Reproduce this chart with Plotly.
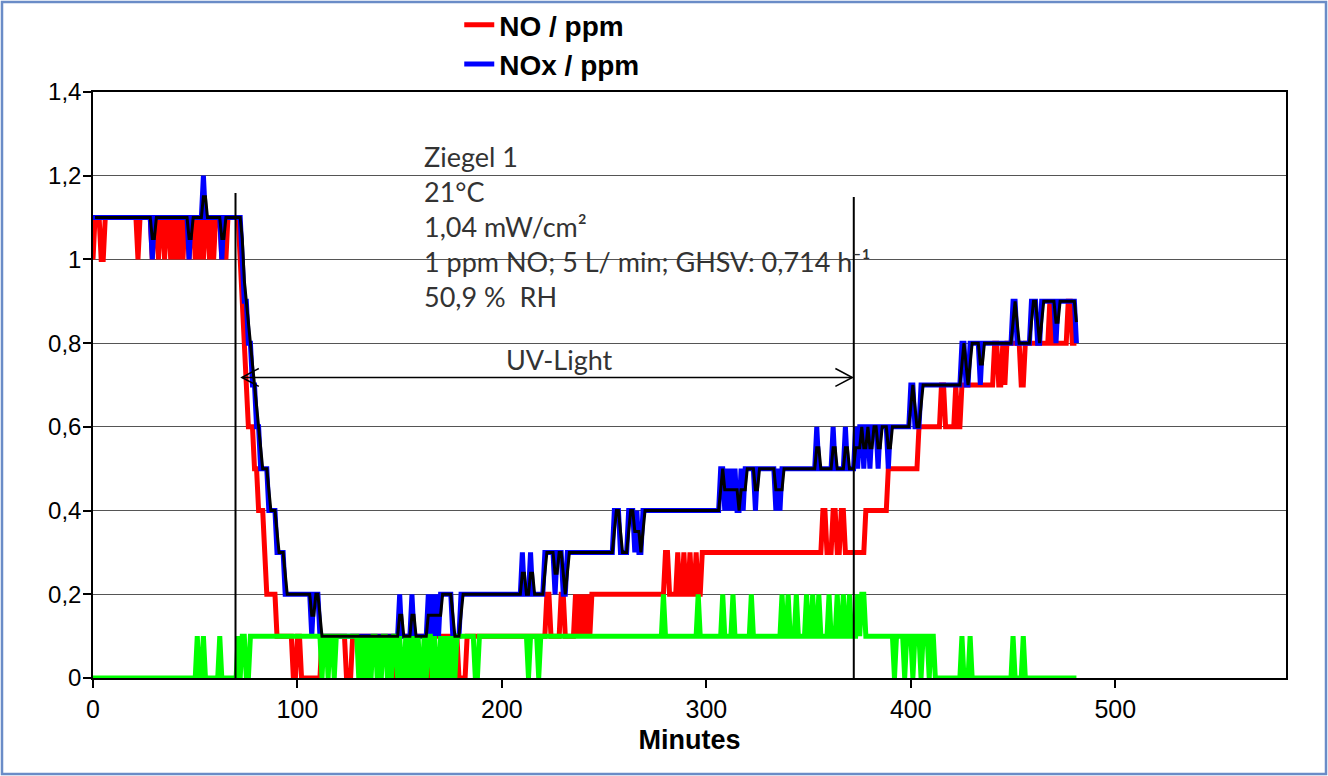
import plotly.graph_objects as go
import pandas as pd

# ---- data (minute at which a level starts, level in ppm); sampled once per minute, 0..481 ----
N_MIN = 482

NOX_START = [0, 29, 30, 47, 48, 54, 55, 63, 64,
             73, 74, 76, 78, 80, 82, 86, 90, 94,
             107, 108, 111,
             150, 151, 156, 157, 164, 165, 166, 167, 168, 169, 170, 176, 180,
             210, 211, 214, 215, 221, 226, 227, 230, 232,
             255, 258, 262, 265, 266, 267, 269,
             307, 309, 310, 311, 312, 313, 314, 315, 317, 318, 319,
             324, 325, 334, 335, 336, 337,
             354, 355, 362, 363, 368, 369, 373, 374, 375, 377, 378, 380, 381, 384, 385, 389, 390,
             400, 402, 405,
             425, 427, 429, 434, 435,
             450, 452, 459, 462, 464, 471, 472, 481]
NOX_LEVEL = [1.1, 1.0, 1.1, 1.0, 1.1, 1.2, 1.1, 1.0, 1.1,
             1.0, 0.9, 0.8, 0.7, 0.6, 0.5, 0.4, 0.3, 0.2,
             0.1, 0.2, 0.1,
             0.2, 0.1, 0.2, 0.1, 0.2, 0.1, 0.2, 0.1, 0.2, 0.1, 0.2, 0.1, 0.2,
             0.3, 0.2, 0.3, 0.2, 0.3, 0.2, 0.3, 0.2, 0.3,
             0.4, 0.3, 0.4, 0.3, 0.4, 0.3, 0.4,
             0.5, 0.4, 0.5, 0.4, 0.5, 0.4, 0.5, 0.4, 0.5, 0.4, 0.5,
             0.4, 0.5, 0.4, 0.5, 0.4, 0.5,
             0.6, 0.5, 0.6, 0.5, 0.6, 0.5, 0.6, 0.5, 0.6, 0.5, 0.6, 0.5, 0.6, 0.5, 0.6, 0.5, 0.6,
             0.7, 0.6, 0.7,
             0.8, 0.7, 0.8, 0.7, 0.8,
             0.9, 0.8, 0.9, 0.8, 0.9, 0.8, 0.9, 0.8]

NO_START = [0, 1, 4, 6, 22, 23, 29, 30, 32, 33, 35, 36, 38, 39, 40, 41, 42, 43, 44, 45, 47, 48,
            50, 51, 52, 53, 54, 55, 57, 58, 59, 60, 63, 64, 65, 66,
            72, 73, 74, 75, 76, 79, 81, 84, 85, 90, 98, 100, 102, 112, 124, 127, 148, 149,
            164, 165, 179, 183,
            222, 224, 229, 231, 236, 237, 238, 239, 240, 241, 242, 243, 244,
            280, 282, 286, 287, 289, 290, 292, 293, 295, 296, 298,
            357, 359, 362, 364, 366, 368, 378, 389, 404, 415, 417, 422, 423, 425,
            441, 443, 445, 446, 447, 454, 456, 468, 469, 477, 479]
NO_LEVEL = [1.0, 1.1, 1.0, 1.1, 1.0, 1.1, 1.0, 1.1, 1.0, 1.1, 1.0, 1.1, 1.0, 1.1, 1.0, 1.1, 1.0, 1.1, 1.0, 1.1, 1.0, 1.1,
            1.0, 1.1, 1.0, 1.1, 1.0, 1.1, 1.0, 1.1, 1.0, 1.1, 1.0, 1.1, 1.0, 1.1,
            1.0, 0.9, 0.8, 0.7, 0.6, 0.5, 0.4, 0.3, 0.2, 0.1, 0.0, 0.1, 0.0, 0.1, 0.0, 0.1, 0.0, 0.1,
            0.0, 0.1, 0.0, 0.1,
            0.2, 0.1, 0.2, 0.1, 0.2, 0.1, 0.2, 0.1, 0.2, 0.1, 0.2, 0.1, 0.2,
            0.3, 0.2, 0.3, 0.2, 0.3, 0.2, 0.3, 0.2, 0.3, 0.2, 0.3,
            0.4, 0.3, 0.4, 0.3, 0.4, 0.3, 0.4, 0.5, 0.6, 0.7, 0.6, 0.7, 0.6, 0.7,
            0.8, 0.7, 0.8, 0.7, 0.8, 0.7, 0.8, 0.9, 0.8, 0.9, 0.8]

NO2_START = [0, 51, 52, 54, 55, 62, 63, 71, 72, 73, 75, 77,
             112, 113, 115, 116, 118, 119, 130, 131, 132, 133, 134, 135, 136, 137, 139, 140, 141, 142,
             144, 145, 146, 147, 149, 150, 151, 153, 154, 155, 156, 157, 158, 159, 160, 162, 163, 164,
             166, 167, 168, 170, 171, 172, 173, 174, 175, 176, 177, 178, 187, 189, 213, 214, 218, 219,
             279, 280, 296, 297, 308, 309, 313, 314, 322, 323, 337, 338, 340, 341, 344, 345, 349, 350,
             352, 353, 355, 356, 360, 361, 364, 365, 367, 368, 370, 371, 374, 375, 376, 378,
             392, 393, 397, 398, 401, 402, 405, 406, 409, 410, 412,
             425, 426, 429, 430, 450, 451, 455, 456]
NO2_LEVEL = [0.0, 0.1, 0.0, 0.1, 0.0, 0.1, 0.0, 0.1, 0.0, 0.1, 0.0, 0.1,
             0.0, 0.1, 0.0, 0.1, 0.0, 0.1, 0.0, 0.1, 0.0, 0.1, 0.0, 0.1, 0.0, 0.1, 0.0, 0.1, 0.0, 0.1,
             0.0, 0.1, 0.0, 0.1, 0.0, 0.1, 0.0, 0.1, 0.0, 0.1, 0.0, 0.1, 0.0, 0.1, 0.0, 0.1, 0.0, 0.1,
             0.0, 0.1, 0.0, 0.1, 0.0, 0.1, 0.0, 0.1, 0.0, 0.1, 0.0, 0.1, 0.0, 0.1, 0.0, 0.1, 0.0, 0.1,
             0.2, 0.1, 0.2, 0.1, 0.2, 0.1, 0.2, 0.1, 0.2, 0.1, 0.2, 0.1, 0.2, 0.1, 0.2, 0.1, 0.2, 0.1,
             0.2, 0.1, 0.2, 0.1, 0.2, 0.1, 0.2, 0.1, 0.2, 0.1, 0.2, 0.1, 0.2, 0.1, 0.2, 0.1,
             0.0, 0.1, 0.0, 0.1, 0.0, 0.1, 0.0, 0.1, 0.0, 0.1, 0.0,
             0.1, 0.0, 0.1, 0.0, 0.1, 0.0, 0.1, 0.0]

X_TICKS = [0, 100, 200, 300, 400, 500]
UV_ON, UV_OFF = 69.7, 372.1
INFO_LINES = ["Ziegel 1", "21°C", "1,04 mW/cm²", "1 ppm NO; 5 L/ min; GHSV: 0,714 h⁻¹", "50,9 %  RH"]


def expand(starts, levels, n=N_MIN):
    out = []
    for i, (s, v) in enumerate(zip(starts, levels)):
        e = starts[i + 1] if i + 1 < len(starts) else n
        out += [v] * (e - s)
    return out


minutes = list(range(N_MIN))
no = expand(NO_START, NO_LEVEL)
nox = expand(NOX_START, NOX_LEVEL)
no2 = expand(NO2_START, NO2_LEVEL)
# Excel-style 2-period moving-average trendline of NOx
nox_trend = pd.Series(nox).rolling(2).mean()

fig = go.Figure()
fig.add_trace(go.Scatter(x=minutes, y=no, mode="lines", name="NO / ppm",
                         line=dict(color="#FF0000", width=5)))
fig.add_trace(go.Scatter(x=minutes, y=nox, mode="lines", name="NOx / ppm",
                         line=dict(color="#0000FF", width=5)))
fig.add_trace(go.Scatter(x=minutes, y=no2, mode="lines", name="NO2 / ppm", showlegend=False,
                         line=dict(color="#00FF00", width=5)))
fig.add_trace(go.Scatter(x=minutes, y=nox_trend, mode="lines", name="gleitender Durchschnitt",
                         showlegend=False, line=dict(color="#000000", width=3)))

shapes = [
    dict(type="line", xref="x", yref="y", x0=UV_ON, x1=UV_ON, y0=0, y1=1.159,
         line=dict(color="black", width=2)),
    dict(type="line", xref="x", yref="y", x0=UV_OFF, x1=UV_OFF, y0=0, y1=1.149,
         line=dict(color="black", width=2)),
    dict(type="line", xref="x", yref="y", x0=72.8, x1=371.4, y0=0.718, y1=0.718,
         line=dict(color="black", width=1.5)),
    dict(type="path", xref="x", yref="y",
         path="M 81.1,0.7395 L 72.8,0.718 L 81.1,0.6965",
         line=dict(color="black", width=1.5)),
    dict(type="path", xref="x", yref="y",
         path="M 363.1,0.7395 L 371.4,0.718 L 363.1,0.6965",
         line=dict(color="black", width=1.5)),
    dict(type="rect", xref="paper", yref="paper",
         x0=(2 - 93) / 1193, x1=(1326 - 93) / 1193, y0=(678 - 774) / 586, y1=(678 - 2) / 586,
         line=dict(color="#6A8CC7", width=2.5), fillcolor="rgba(0,0,0,0)", layer="below"),
]

annotations = []
for i, txt in enumerate(INFO_LINES):
    annotations.append(dict(x=161.0, y=1.246 - i * 0.0836, xref="x", yref="y", text=txt,
                            showarrow=False, xanchor="left", yanchor="middle",
                            font=dict(family="Lato, Carlito, sans-serif", size=27, color="#333333")))
annotations.append(dict(x=228, y=0.760, xref="x", yref="y", text="UV-Light", showarrow=False,
                        xanchor="center", yanchor="middle",
                        font=dict(family="Lato, Carlito, sans-serif", size=27, color="#333333")))

fig.update_layout(
    width=1328, height=776,
    margin=dict(l=93, r=42, t=92, b=98, autoexpand=False),
    plot_bgcolor="white", paper_bgcolor="white",
    separators=", ",
    font=dict(family="Arial, 'Liberation Sans', sans-serif", color="black"),
    showlegend=True,
    legend=dict(x=0.307, y=1.157, xanchor="left", yanchor="top", bgcolor="rgba(0,0,0,0)",
                font=dict(size=28, weight="bold", color="black"), tracegroupgap=0),
    shapes=shapes,
    annotations=annotations,
    xaxis=dict(range=[0, 583.5], tickvals=X_TICKS, showgrid=False, zeroline=False,
               showline=True, linecolor="black", linewidth=1.5, mirror=True,
               ticks="outside", ticklen=8, tickcolor="black", tickwidth=1.5,
               tickfont=dict(size=25),
               title=dict(text="Minutes", font=dict(size=27, weight="bold"), standoff=8)),
    yaxis=dict(range=[0, 1.4], dtick=0.2, showgrid=True, gridcolor="#555555", gridwidth=1,
               zeroline=False, showline=True, linecolor="black", linewidth=1.5, mirror=True,
               ticks="outside", ticklen=8, tickcolor="black", tickwidth=1.5,
               ticklabelstandoff=-3, tickfont=dict(size=24)),
)

fig.write_html("out.html")
